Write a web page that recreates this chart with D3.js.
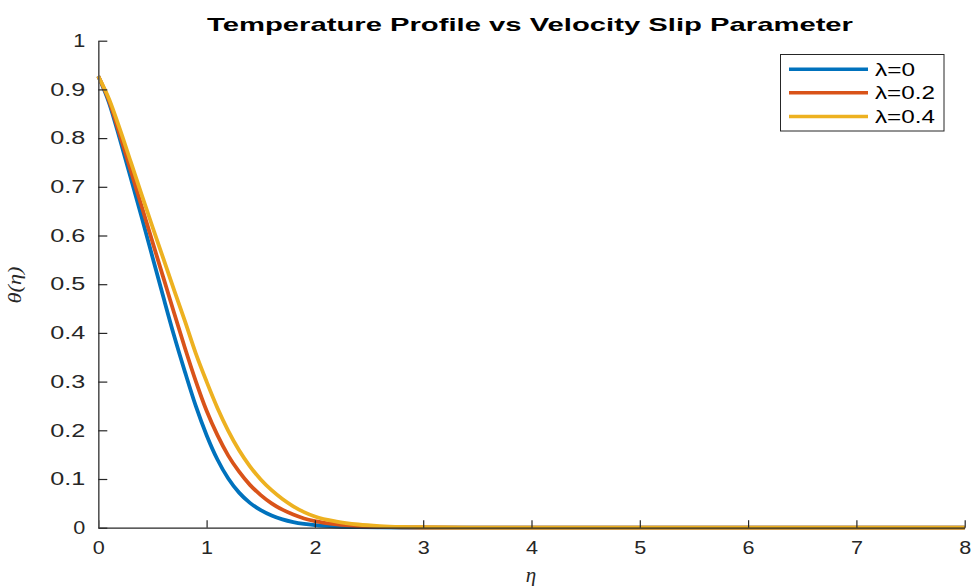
<!DOCTYPE html>
<html><head><meta charset="utf-8">
<script src="https://cdn.jsdelivr.net/npm/d3@7"></script>
<style>body{margin:0;background:#fff;}svg{display:block;}</style>
</head><body>
<svg id="c" width="971" height="586"></svg>
<script>
const eta = [0,0.1,0.2,0.3,0.4,0.5,0.6,0.7,0.8,0.9,1.0,1.1,1.2,1.3,1.4,1.5,1.6,1.7,1.8,1.9,2.0,2.2,2.4,2.6,2.8,3.0,3.5,4,5,6,7,8];
const theta0 = [0.927,0.872,0.797,0.718,0.638,0.556,0.474,0.394,0.320,0.250,0.190,0.140,0.101,0.072,0.051,0.036,0.025,0.017,0.0115,0.0078,0.0053,0.0024,0.0011,0.0005,0.0002,0.0001,0,0,0,0,0,0];
const theta02 = [0.927,0.876,0.806,0.733,0.660,0.587,0.514,0.441,0.369,0.301,0.240,0.190,0.148,0.115,0.088,0.067,0.050,0.037,0.027,0.019,0.0135,0.0068,0.0034,0.0017,0.0008,0.0004,0.0001,0,0,0,0,0];
const theta04 = [0.927,0.880,0.818,0.751,0.684,0.618,0.553,0.488,0.424,0.358,0.300,0.246,0.199,0.159,0.126,0.099,0.077,0.059,0.044,0.032,0.023,0.0125,0.0066,0.0034,0.0017,0.0009,0.0002,0,0,0,0,0];
const seriesNames = ["\u03bb=0","\u03bb=0.2","\u03bb=0.4"];
const seriesValues = [theta0, theta02, theta04];
const colors = ["#0072BD","#D95319","#EDB120"];
const xTicks = [0,1,2,3,4,5,6,7,8];
const yTicks = [0,0.1,0.2,0.3,0.4,0.5,0.6,0.7,0.8,0.9,1];
const titleText = "Temperature Profile vs Velocity Slip Parameter";

const svg = d3.select("#c");
const x = d3.scaleLinear().domain([0,8]).range([98.3,964.7]);
const y = d3.scaleLinear().domain([0,1]).range([527.7,40.7]);
const font = "'Liberation Sans', Arial, Helvetica, sans-serif";

function stretch(sel, k, extra){
  sel.each(function(){
    const t = d3.select(this);
    const w = this.getComputedTextLength();
    const n = this.textContent.length;
    t.attr("textLength", w*k + (n-1)*extra).attr("lengthAdjust","spacingAndGlyphs");
  });
}

// curves
const line = d3.line().x((d,i)=>x(eta[i])).y(d=>y(d)).curve(d3.curveMonotoneX);
seriesValues.forEach((vals,i)=>{
  svg.append("path").datum(vals).attr("d", line)
    .attr("fill","none").attr("stroke",colors[i]).attr("stroke-width",3.8)
    .attr("stroke-linejoin","round");
});

// axes
const xAxis = d3.axisBottom(x).tickValues(xTicks).tickFormat(d3.format("d")).tickSizeInner(-7.5).tickSizeOuter(0).tickPadding(16);
const gx = svg.append("g").attr("transform","translate(0,527.7)").call(xAxis);
const yAxis = d3.axisLeft(y).tickValues(yTicks).tickFormat(d=> d===0||d===1 ? d3.format("d")(d) : d3.format(".1f")(d)).tickSizeInner(-9).tickSizeOuter(0).tickPadding(13);
const gy = svg.append("g").attr("transform","translate(98.3,0)").call(yAxis);
[gx,gy].forEach(g=>{
  g.select(".domain").attr("stroke","#262626").attr("stroke-width",1.2);
  g.selectAll(".tick line").attr("stroke","#262626").attr("stroke-width",1.2);
  g.selectAll(".tick text").attr("font-family",font).attr("font-size",18).attr("fill","#262626");
});
gy.select(".domain").attr("stroke","#555").attr("stroke-width",1.6);
gx.selectAll(".tick text").attr("dy","0.71em").attr("y",14);
stretch(gx.selectAll(".tick text"),1.2,1.5);
stretch(gy.selectAll(".tick text"),1.2,2.5);

// title
const tt = svg.append("text").attr("x",530).attr("y",31).attr("text-anchor","middle")
  .attr("font-family",font).attr("font-weight","bold").attr("font-size",18.5).attr("fill","#000").text(titleText);
tt.attr("textLength",646).attr("lengthAdjust","spacingAndGlyphs");

// x label
svg.append("text").attr("x",531).attr("y",582).attr("text-anchor","middle")
  .attr("font-family","'Liberation Serif','DejaVu Serif',serif").attr("font-style","italic").attr("font-size",21).attr("fill","#262626").text("\u03b7");

// y label
svg.append("text").attr("transform","translate(21,285) rotate(-90)").attr("text-anchor","middle")
  .attr("font-family","'Liberation Serif','DejaVu Serif',serif").attr("font-style","italic").attr("font-size",18).attr("fill","#262626")
  .attr("textLength",37).attr("lengthAdjust","spacingAndGlyphs").text("\u03b8(\u03b7)");

// legend
const lg = svg.append("g");
lg.append("rect").attr("x",780.5).attr("y",54.5).attr("width",163.5).attr("height",76.5)
  .attr("fill","#fff").attr("stroke","#262626").attr("stroke-width",1);
const ly = [69.3,92.7,116.5];
const lw = [40,60,60];
seriesNames.forEach((nm,i)=>{
  lg.append("line").attr("x1",789).attr("x2",868).attr("y1",ly[i]).attr("y2",ly[i])
    .attr("stroke",colors[i]).attr("stroke-width",3.4);
  lg.append("text").attr("x",875).attr("y",ly[i]+6.5).attr("font-family",font).attr("font-size",18)
    .attr("fill","#000").text(nm).attr("textLength",lw[i]).attr("lengthAdjust","spacingAndGlyphs");
});
</script>
</body></html>
